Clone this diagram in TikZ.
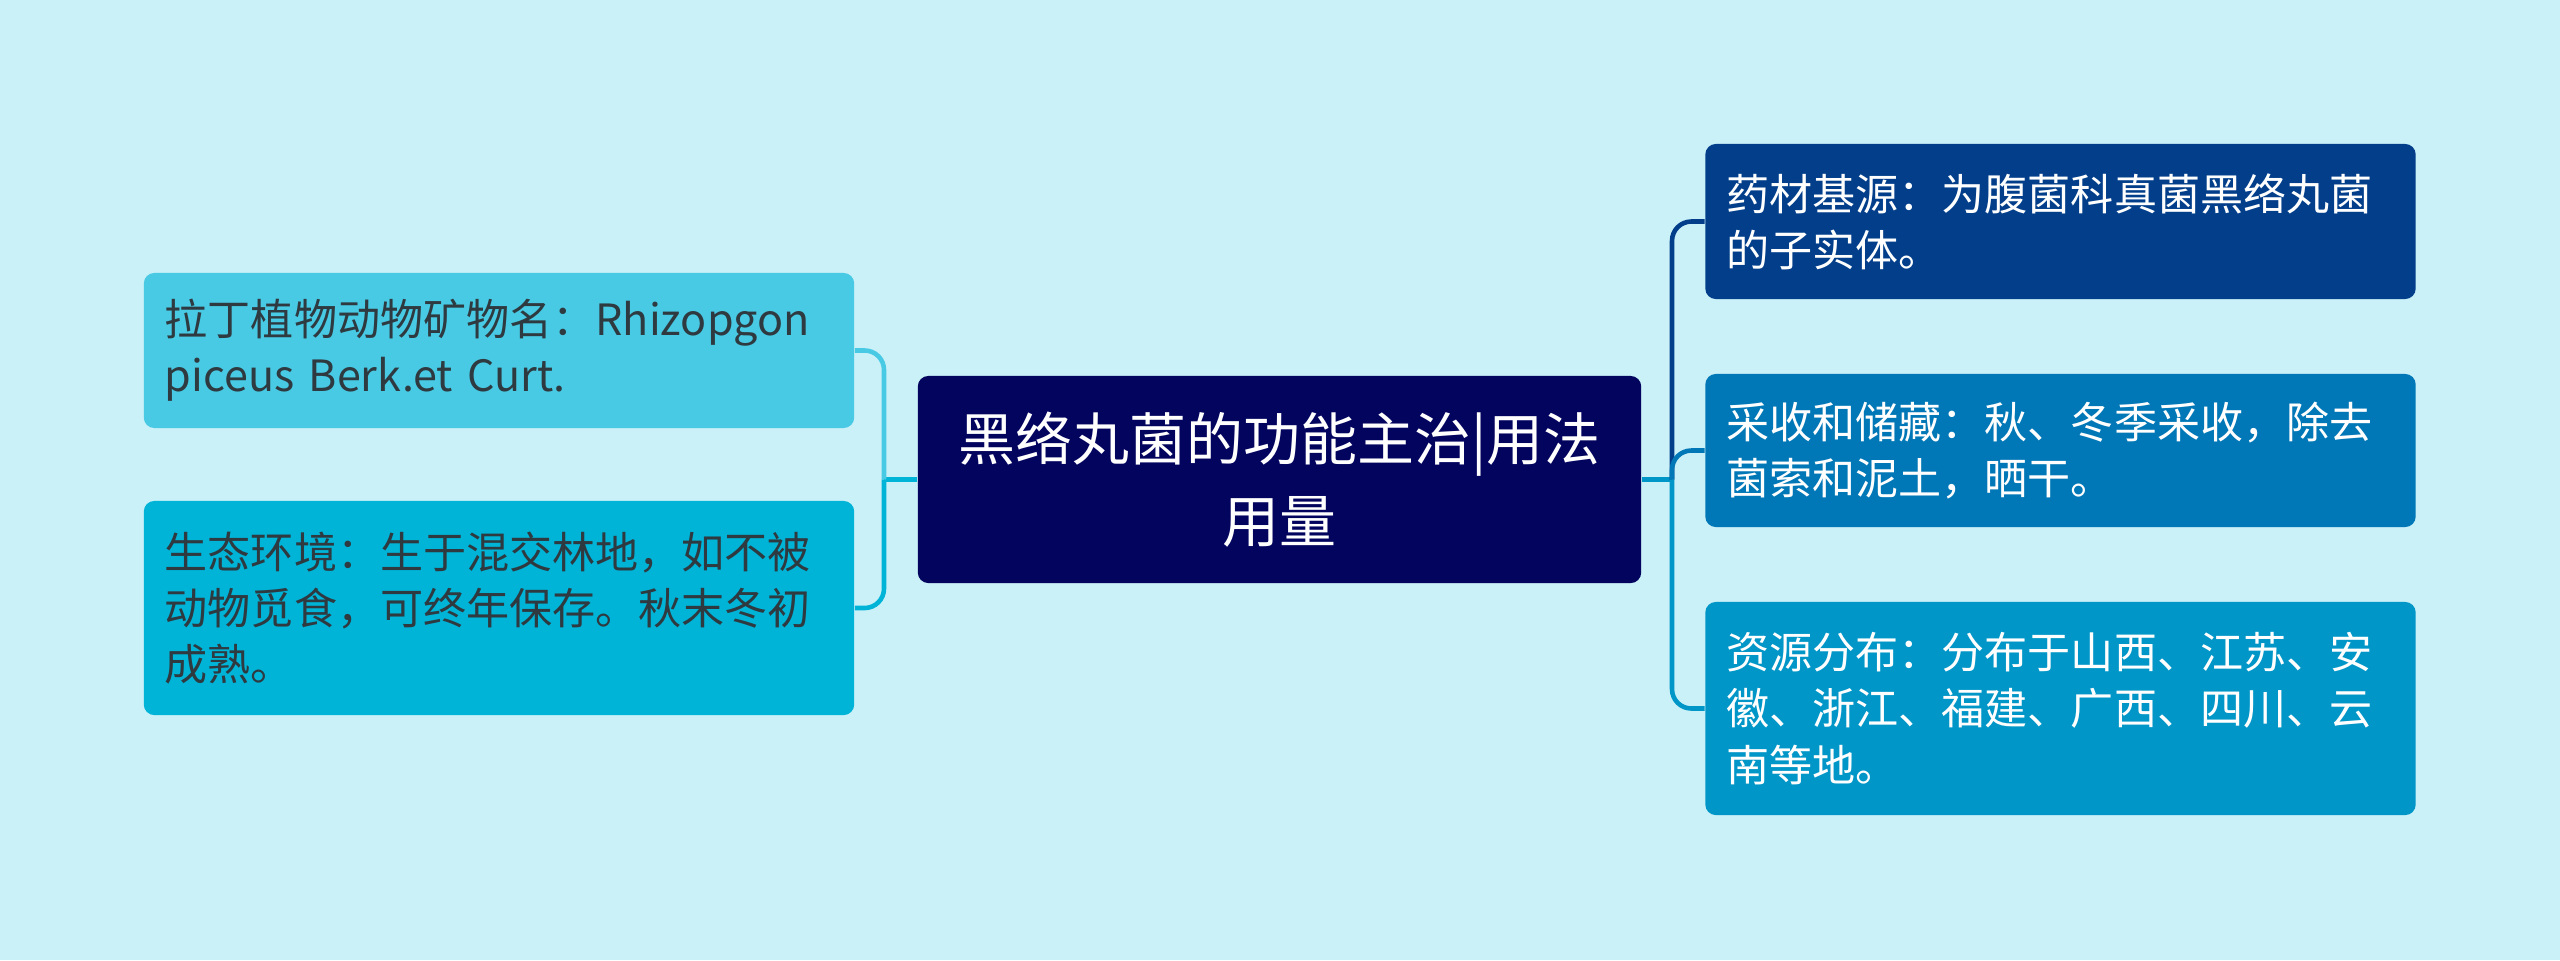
\documentclass[tikz,border=0pt]{standalone}
\usepackage{fontspec}
\setmainfont{Noto Sans CJK SC}
\definecolor{bgcyan}{HTML}{CAF0F8}
\definecolor{rootnavy}{HTML}{03045E}
\definecolor{leftlight}{HTML}{48CAE4}
\definecolor{leftdeep}{HTML}{00B4D8}
\definecolor{rightdark}{HTML}{023E8A}
\definecolor{rightmid}{HTML}{0077B6}
\definecolor{rightsoft}{HTML}{0096C7}
\definecolor{leaftext}{HTML}{2E3A40}

\begin{document}
\begin{tikzpicture}[x=0.01cm, y=-0.01cm,
    leafbox/.style={rectangle, rounded corners=3pt, draw=none, align=left,
        text width=6.68cm, inner xsep=0.21cm, inner ysep=0pt,
        minimum width=7.1cm, font=\fontsize{12.25}{16}\selectfont},
    rootbox/.style={rectangle, rounded corners=3pt, fill=rootnavy, text=white,
        align=center, minimum width=7.23cm, minimum height=2.07cm,
        font=\fontsize{16.2}{23.3}\selectfont},
    branch/.style={line width=1.3pt, rounded corners=5.5pt}]
    % Background
    \fill[bgcyan] (0,0) rectangle (2560,960);
    \useasboundingbox (0,0) rectangle (2560,960);

    % Root
    \node[rootbox] (root) at (1279.5,479.5) {黑络丸菌的功能主治|用法\\用量};

    % Left side
    \node[leafbox, fill=leftlight, text=leaftext, minimum height=1.55cm] (latin) at (499,350.5)
        {拉丁植物动物矿物名：Rhizopgon\\piceus Berk.et Curt.};
    \node[leafbox, fill=leftdeep, text=leaftext, minimum height=2.14cm] (habitat) at (499,608)
        {生态环境：生于混交林地，如不被\\动物觅食，可终年保存。秋末冬初\\成熟。};

    % Right side
    \node[leafbox, fill=rightdark, text=white, minimum height=1.55cm] (source) at (2060.5,221.5)
        {药材基源：为腹菌科真菌黑络丸菌\\的子实体。};
    \node[leafbox, fill=rightmid, text=white, minimum height=1.53cm] (harvest) at (2060.5,450.5)
        {采收和储藏：秋、冬季采收，除去\\菌索和泥土，晒干。};
    \node[leafbox, fill=rightsoft, text=white, minimum height=2.13cm] (spread) at (2060.5,708.5)
        {资源分布：分布于山西、江苏、安\\徽、浙江、福建、广西、四川、云\\南等地。};

    % Connectors
    \coordinate (ljoin) at (884,479.5);
    \coordinate (rjoin) at (1672,479.5);
    \draw[branch, leftdeep] (root.west) -- (ljoin);
    \draw[branch, leftlight] (ljoin) |- (latin.east);
    \draw[branch, leftdeep] (ljoin) |- (habitat.east);
    \draw[branch, rightsoft] (root.east) -- (rjoin);
    \draw[branch, rightdark] (rjoin) |- (source.west);
    \draw[branch, rightmid] (rjoin) |- (harvest.west);
    \draw[branch, rightsoft] (rjoin) |- (spread.west);
\end{tikzpicture}
\end{document}
